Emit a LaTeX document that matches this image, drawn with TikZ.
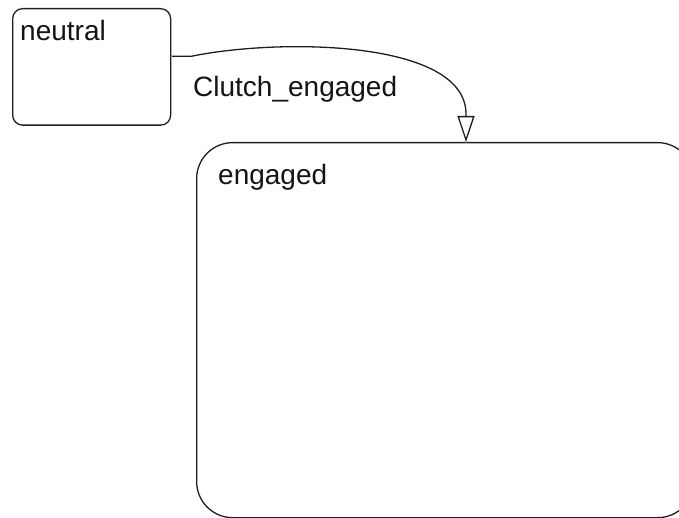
\documentclass[tikz,border=0pt]{standalone}
\usepackage{fontspec}
\setmainfont{Liberation Sans}
\usetikzlibrary{arrows.meta,calc}
\definecolor{linec}{RGB}{30,30,30}
\definecolor{txtc}{RGB}{20,20,20}
\definecolor{dotc}{RGB}{40,200,40}
\begin{document}
\begin{tikzpicture}[x=1pt,y=-1pt,
  state/.style={draw=linec, line width=1.3pt, rectangle, inner sep=0pt, anchor=north west},
  lbl/.style={anchor=base west, inner sep=0pt, font=\fontsize{28}{32}\selectfont, text=txtc},
  trans/.style={draw=linec, line width=1.3pt, -{Triangle[open,length=26pt,width=17pt,line width=1.3pt]}},
  portdot/.style={fill=dotc, draw=none, circle, inner sep=0pt, minimum size=2pt}]
\useasboundingbox (0,0) rectangle (679,518);
\clip (0,0) rectangle (679,518);
\node[state, minimum width=158pt, minimum height=116.5pt, rounded corners=10pt] (neutral) at (12,8) {};
\node[state, minimum width=497pt, minimum height=375pt, rounded corners=36pt] (engaged) at (196,142) {};
\node[lbl] (neutraltxt) at (20,40.5) {neutral};
\node[lbl] (engagedtxt) at (218,185) {engaged};
\node[lbl] (transtxt) at (193,97) {Clutch\_engaged};
\coordinate (src) at ($(neutral.north east)!0.41!(neutral.south east)$);
\coordinate (dst) at ([xshift=270pt]engaged.north west);
\draw[trans] (src) -- ++(20,0) .. controls (280,38) and (466,40) .. ($(dst)+(0,-28)$) -- (dst);
\node[portdot] at (src) {};
\node[portdot] at (dst) {};
\end{tikzpicture}
\end{document}
